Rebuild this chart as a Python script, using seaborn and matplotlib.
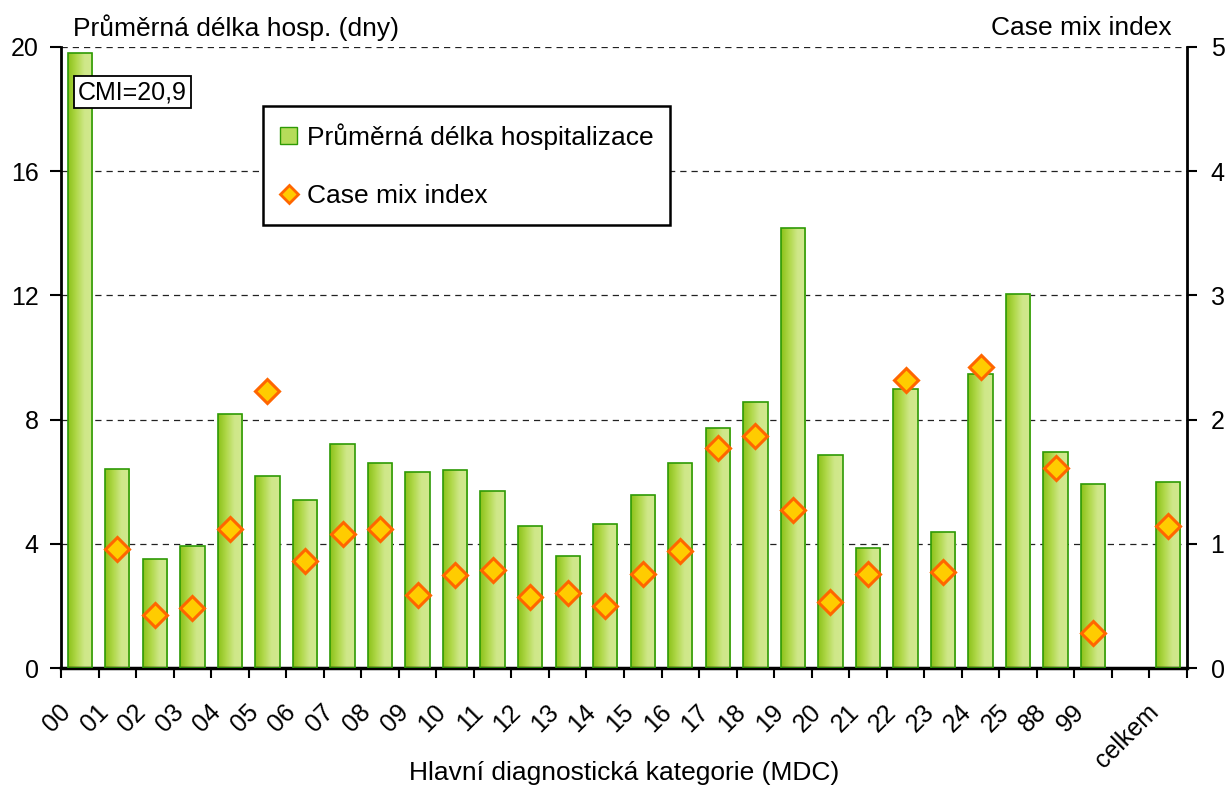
import numpy as np
import pandas as pd
import matplotlib
matplotlib.use("Agg")
import matplotlib.pyplot as plt
import matplotlib.transforms as mtransforms
from matplotlib.colors import LinearSegmentedColormap
from matplotlib.patches import Patch
from matplotlib.lines import Line2D
import seaborn as sns

# data
mdc = ["00", "01", "02", "03", "04", "05", "06", "07", "08", "09", "10", "11", "12",
       "13", "14", "15", "16", "17", "18", "19", "20", "21", "22", "23", "24", "25",
       "88", "99", "celkem"]
delka = [19.8, 6.40, 3.50, 3.93, 8.17, 6.17, 5.40, 7.20, 6.59, 6.30, 6.37, 5.69, 4.56,
         3.60, 4.63, 5.56, 6.59, 7.72, 8.56, 14.16, 6.85, 3.85, 8.98, 4.37, 9.48, 12.06,
         6.95, 5.92, 5.98]
cmi = [20.9, 0.96, 0.43, 0.48, 1.12, 2.23, 0.86, 1.08, 1.12, 0.59, 0.75, 0.79, 0.57,
       0.60, 0.50, 0.76, 0.94, 1.77, 1.87, 1.27, 0.53, 0.76, 2.32, 0.77, 2.42, np.nan,
       1.61, 0.28, 1.14]
order = mdc[:-1] + [" "] + ["celkem"]

df = pd.DataFrame({"mdc": mdc, "delka": delka, "cmi": cmi})

sns.set_style("white")
plt.rcParams["font.family"] = ["Liberation Sans", "DejaVu Sans"]
plt.rcParams["text.color"] = "black"

W, H = 1226, 787
fig = plt.figure(figsize=(W / 100, H / 100), dpi=100)
ax = fig.add_axes([61 / W, 1 - 668 / H, (1187 - 61) / W, (668 - 47) / H])

sns.barplot(data=df, x="mdc", y="delka", order=order, width=0.65, ax=ax,
            color="#b5dc5a", edgecolor="#2e9a05", linewidth=1.2, zorder=3)

# gradient fill of the bars
cmap = LinearSegmentedColormap.from_list("g", ["#8cc21a", "#b0d84a", "#cfe789", "#d2e98e"])
grad = np.linspace(0, 1, 64).reshape(1, -1)
for bar in list(ax.patches):
    h = bar.get_height()
    if np.isnan(h) or h == 0:
        continue
    x0, w = bar.get_x(), bar.get_width()
    im = ax.imshow(grad, cmap=cmap, extent=(x0, x0 + w, 0, h), aspect="auto",
                   origin="lower", zorder=2, interpolation="bilinear")
    im.set_clip_path(bar)
    bar.set_facecolor("none")

ax.set_xlim(-0.5, len(order) - 0.5)
ax.set_ylim(0, 20)
ax.set_yticks([0, 4, 8, 12, 16, 20])
ax.yaxis.grid(True, linestyle=(0, (5, 4)), color="#222222", linewidth=0.9)
ax.set_axisbelow(True)
ax.set_xlabel("")
ax.set_ylabel("")

# case mix index on secondary axis
ax2 = ax.twinx()
sns.pointplot(data=df, x="mdc", y="cmi", order=order, ax=ax2, linestyle="none",
              marker="D", markersize=12, markerfacecolor="#ffcc00",
              markeredgecolor="#ff6600", markeredgewidth=2.2, color="#ff6600",
              errorbar=None, zorder=5)
ax2.set_xlim(-0.5, len(order) - 0.5)
ax2.set_ylim(0, 5)
ax2.set_yticks([0, 1, 2, 3, 4, 5])
ax2.set_ylabel("")
ax2.set_xlabel("")

# spines
for s in ["top", "right"]:
    ax.spines[s].set_visible(False)
for s in ["top", "left", "bottom"]:
    ax2.spines[s].set_visible(False)
ax.spines["left"].set_linewidth(2)
ax.spines["bottom"].set_linewidth(2.5)
ax2.spines["right"].set_linewidth(2)
for s in ax.spines.values():
    s.set_color("black")
ax2.spines["right"].set_color("black")

ax.tick_params(axis="y", which="major", direction="out", length=8, width=1.5,
               labelsize=18, pad=8, left=True, colors="black")
ax2.tick_params(axis="y", which="major", direction="out", length=7, width=1.5,
                labelsize=18, pad=10, right=True, colors="black")

# x ticks: labels at category centres, tick marks at boundaries
ax.set_xticks(range(len(order)))
ax.set_xticklabels(order)
ax.set_xticks(np.arange(-0.5, len(order), 1), minor=True)
ax.tick_params(axis="x", which="major", length=0, labelsize=18, pad=29,
               labelcolor="black")
ax.tick_params(axis="x", which="minor", direction="out", length=7, width=1.5,
               bottom=True, colors="black")
shift = mtransforms.ScaledTranslation(-13 / 100, 0, fig.dpi_scale_trans)
for lab in ax.get_xticklabels():
    lab.set_rotation(45)
    lab.set_ha("right")
    lab.set_va("center")
    lab.set_rotation_mode("anchor")
    lab.set_transform(lab.get_transform() + shift)
ax2.tick_params(axis="x", which="both", bottom=False, labelbottom=False)

# annotation for the off-scale CMI
ax.text(-0.05, 18.55, "CMI=20,9", ha="left", va="center", fontsize=18,
        family=["Liberation Sans Narrow", "Liberation Sans"], zorder=6,
        bbox=dict(boxstyle="square,pad=0.15", fc="white", ec="black", lw=1.3))

# legend
handles = [
    Patch(facecolor="#b5dc5a", edgecolor="#2e9a05", label="Průměrná délka hospitalizace"),
    Line2D([], [], marker="D", linestyle="none", markerfacecolor="#ffcc00",
           markeredgecolor="#ff6600", markersize=9, markeredgewidth=2,
           label="Case mix index"),
]
leg = ax2.legend(handles=handles, loc="upper left",
                 bbox_to_anchor=((263 - 61) / 1126, (668 - 106) / 621),
                 borderaxespad=0, fontsize=19, frameon=True, fancybox=False,
                 edgecolor="black", framealpha=1, borderpad=0.65,
                 labelspacing=1.3, handlelength=0.65, handleheight=0.65,
                 handletextpad=0.35)
leg.get_frame().set_linewidth(1.8)

# axis titles
fig.text(73 / W, 1 - 28 / H, "Průměrná délka hosp. (dny)", ha="left", va="center",
         fontsize=19)
fig.text(1172 / W, 1 - 28 / H, "Case mix index", ha="right", va="center", fontsize=19)
fig.text(624 / W, 1 - 773 / H, "Hlavní diagnostická kategorie (MDC)", ha="center",
         va="center", fontsize=19)

fig.savefig("out.png", dpi=100, facecolor="white")
